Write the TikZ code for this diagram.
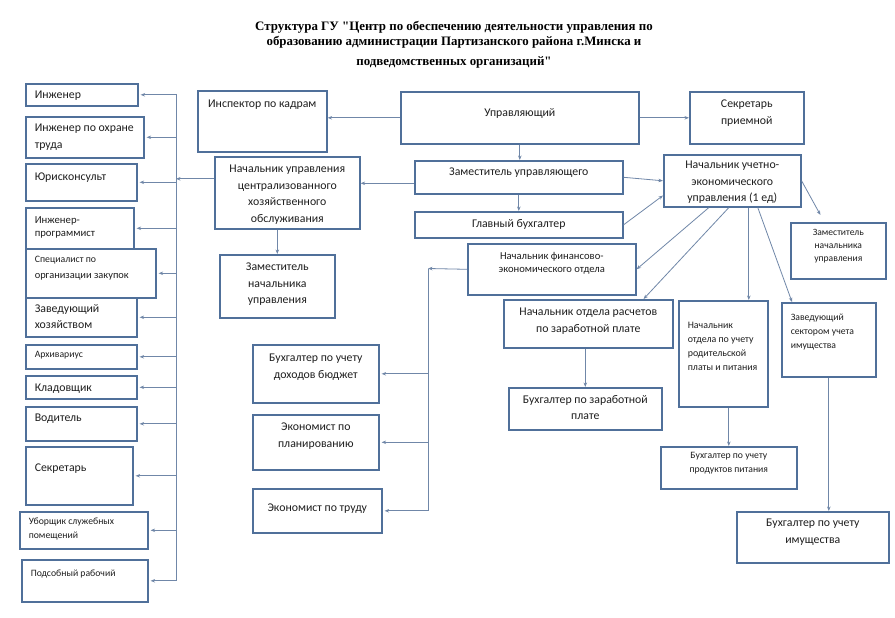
\documentclass[tikz,border=0pt]{standalone}
\usepackage{fontspec}
\setmainfont{Carlito}
\newfontfamily\titlefont{Liberation Serif}
\usetikzlibrary{positioning,calc,arrows.meta}

\definecolor{boxline}{HTML}{50709A}
\definecolor{wirecol}{HTML}{7087A8}
\definecolor{txtcol}{HTML}{1E1E1E}

\newcommand{\mainsize}{\fontsize{11.8}{16.5}\selectfont}
\newcommand{\smallsize}{\fontsize{9.7}{14}\selectfont}
% box contents: width, height, top gap, text
\newcommand{\orgc}[4]{\parbox[t][#2pt][t]{#1pt}{\vspace*{#3pt}\centering #4\par}}
\newcommand{\orgl}[4]{\parbox[t][#2pt][t]{#1pt}{\vspace*{#3pt}\raggedright\leftskip=9pt #4\par}}

\tikzset{
    box/.style={draw=boxline,line width=1.6pt,inner sep=0pt,anchor=north west,text=txtcol},
    wire/.style={draw=wirecol,line width=0.8pt},
    head/.style={align=center,font=\titlefont\bfseries\fontsize{12.9}{15}\selectfont}
}

\begin{document}
\begin{tikzpicture}[x=1pt,y=-1pt,>={Stealth[length=4.5pt,width=3.5pt]}]
    \useasboundingbox (0,0) rectangle (895,618);
    \fill[white] (0,0) rectangle (895,618);

    \draw
        node[head] (title) at (454,45) {Структура ГУ "Центр по обеспечению деятельности управления по\\
            образованию администрации Партизанского района г.Минска и\\[5pt]
            подведомственных организаций"}

        % staff on the left
        node[box] (eng) at (25,83) {\orgl{112}{22}{7.5}{\mainsize Инженер}}
        node[box] (safety) at (25,116) {\orgl{118}{41}{7.5}{\mainsize Инженер по охране\\труда}}
        node[box] (lawyer) at (25,163) {\orgl{111}{37}{9.5}{\mainsize Юрисконсульт}}
        node[box] (prog) at (25,207) {\orgl{108}{41}{8.5}{\fontsize{10.7}{13.5}\selectfont Инженер-\\программист}}
        node[box] (buyer) at (25,248) {\orgl{130}{49}{7.5}{\fontsize{10.4}{16}\selectfont{\fontsize{9.8}{14}\selectfont Специалист по}\\организации закупок}}
        node[box] (keeper) at (25,297) {\orgl{111}{39}{6.5}{\mainsize Заведующий\\хозяйством}}
        node[box] (archive) at (25,344) {\orgl{111}{24}{6.5}{\smallsize Архивариус}}
        node[box] (store) at (25,375) {\orgl{111}{23}{8.5}{\mainsize Кладовщик}}
        node[box] (driver) at (25,406) {\orgl{111}{34}{7.5}{\mainsize Водитель}}
        node[box] (secr) at (25,446) {\orgl{107}{58}{17.5}{\mainsize Секретарь}}
        node[box] (clean) at (19,511) {\orgl{128}{37}{6.5}{\smallsize Уборщик служебных\\помещений}}
        node[box] (helper) at (21,559) {\orgl{126}{42}{10.5}{\smallsize Подсобный рабочий}}

        % middle
        node[box] (hr) at (197,90) {\orgc{129}{61}{9.5}{\mainsize Инспектор по кадрам}}
        node[box] (chief) at (214,156) {\orgc{145}{72}{8.5}{\mainsize Начальник управления\\централизованного\\хозяйственного\\обслуживания}}
        node[box] (chiefdep) at (219,254) {\orgc{115}{63}{8.5}{\mainsize Заместитель\\начальника\\управления}}
        node[box] (head) at (400,91) {\orgc{238}{52}{16.5}{\mainsize Управляющий}}
        node[box] (deputy) at (414,160) {\orgc{208}{33}{7.5}{\mainsize Заместитель управляющего}}
        node[box] (acc) at (414,211) {\orgc{208}{26}{7.5}{\mainsize Главный бухгалтер}}
        node[box] (fin) at (467,243) {\orgc{168}{51}{8.5}{\fontsize{10.6}{13}\selectfont Начальник финансово-\\экономического отдела}}
        node[box] (pay) at (503,299) {\orgc{169}{48}{8.5}{\mainsize Начальник отдела расчетов\\по заработной плате}}
        node[box] (payacc) at (508,387) {\orgc{153}{42}{7.5}{\mainsize Бухгалтер по заработной\\плате}}
        node[box] (income) at (252,344) {\orgc{126}{58}{9.5}{\mainsize Бухгалтер по учету\\доходов бюджет}}
        node[box] (plan) at (252,414) {\orgc{126}{55}{8.5}{\mainsize Экономист по\\планированию}}
        node[box] (labour) at (252,488) {\orgc{129}{44}{15.5}{\mainsize Экономист по труду}}

        % right
        node[box] (recep) at (689,91) {\orgc{114}{52}{8.5}{\mainsize Секретарь\\приемной}}
        node[box] (econ) at (663,154) {\orgc{137}{52}{6.5}{\mainsize Начальник учетно-\\экономического\\управления (1 ед)}}
        node[box] (econdep) at (790,222) {\orgc{95}{56}{6.5}{\fontsize{9.6}{13}\selectfont Заместитель\\начальника\\управления}}
        node[box] (food) at (678,300) {\orgl{89}{106}{21.5}{\fontsize{9.9}{14}\selectfont Начальник\\отдела по учету\\родительской\\платы и питания}}
        node[box] (prop) at (781,302) {\orgl{94}{74}{11.5}{\smallsize Заведующий\\сектором учета\\имущества}}
        node[box] (foodacc) at (660,446) {\orgc{136}{42}{5.5}{\smallsize Бухгалтер по учету\\продуктов питания}}
        node[box] (propacc) at (736,511) {\orgc{152}{51}{7.5}{\mainsize Бухгалтер по учету\\имущества}}
    ;

    \coordinate (busL) at (176,94);
    \coordinate (busF) at (428,268.5);

    \draw[wire,->] (head.west) -- (head.west -| hr.east);
    \draw[wire,->] (head.east) -- (head.east -| recep.west);
    \draw[wire,->] (head.south) -- (head.south |- deputy.north);
    \draw[wire,->] (deputy.south) -- (deputy.south |- acc.north);
    \draw[wire,->] ([yshift=-6pt]deputy.west) -- ([yshift=-6pt]deputy.west -| chief.east);
    \draw[wire,->] (deputy.east) -- (econ.west);
    \draw[wire,->] (acc.east) -- (econ.192);

    % chief of maintenance and his staff
    \draw[wire,->] (chiefdep.north |- chief.south) -- (chiefdep.north);
    \draw[wire,->] ([yshift=14pt]chief.west) coordinate (c) -- (c -| busL);
    \draw[wire] (busL) -- (busL |- helper.east);
    \foreach \n in {eng,safety,lawyer,prog,buyer,keeper,archive,store,driver,secr,clean,helper}
        \draw[wire,->,shorten >=2pt] (busL |- \n.east) -- (\n.east);

    % finance department
    \draw[wire,->] (fin.west) -- (busF);
    \draw[wire] (busF) -- (busF |- labour.east);
    \foreach \n in {income,plan,labour}
        \draw[wire,->,shorten >=2pt] (busF |- \n.east) -- (\n.east);

    % accounting department
    \draw[wire,->] ([xshift=-23.5pt]econ.south) -- (fin.east);
    \draw[wire,->] ([xshift=-3.5pt]econ.south) -- ([xshift=-30pt]pay.north east);
    \draw[wire,->] ([xshift=16.5pt]econ.south) -- ([xshift=16.5pt]econ.south |- food.north);
    \draw[wire,->] ([xshift=25.5pt]econ.south) -- ([xshift=11pt]prop.north west);
    \draw[wire,->,shorten >=8pt] (econ.east) -- ([xshift=-14pt]econdep.north);
    \draw[wire,->] (payacc.north |- pay.south) -- (payacc.north);
    \draw[wire,->] (foodacc.north |- food.south) -- (foodacc.north);
    \draw[wire,->] (prop.south) -- (prop.south |- propacc.north);
\end{tikzpicture}
\end{document}
